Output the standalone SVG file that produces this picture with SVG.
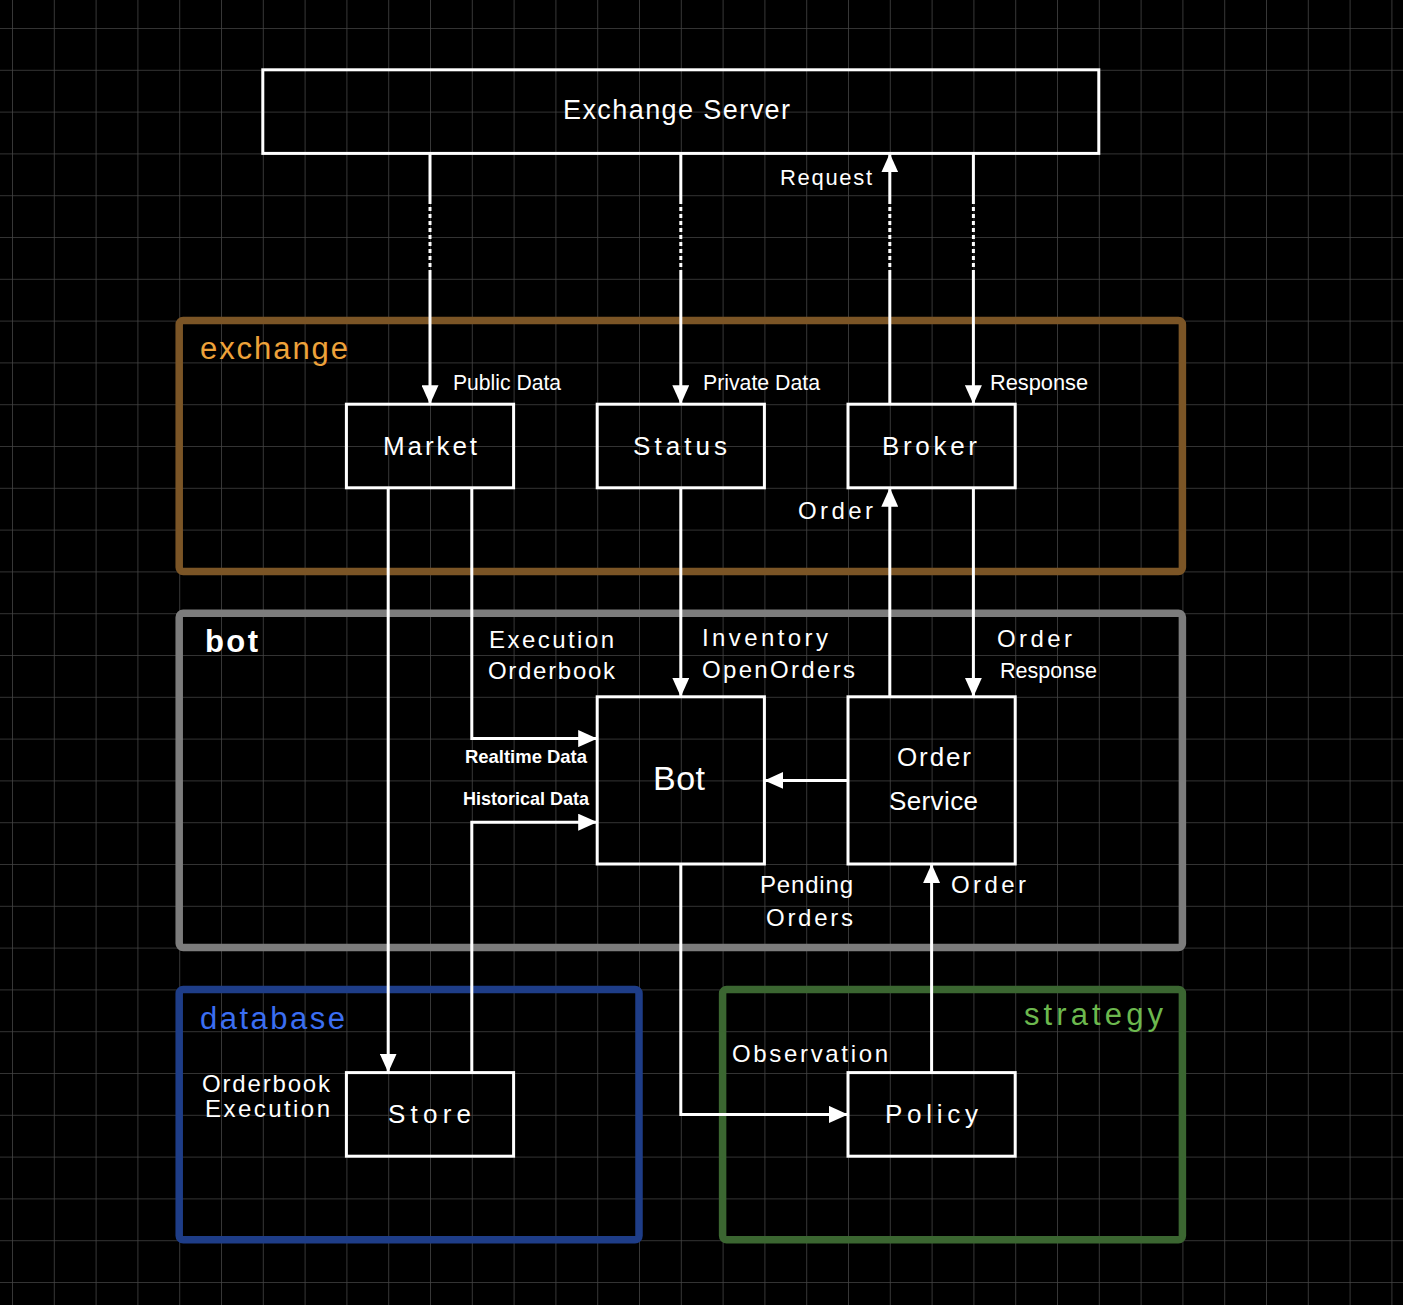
<svg xmlns="http://www.w3.org/2000/svg" width="1403" height="1305" viewBox="0 0 1403 1305">
<defs>
<pattern id="grid" x="12" y="28" width="41.8" height="41.8" patternUnits="userSpaceOnUse">
<path d="M0,0 H41.8 M0,0 V41.8" stroke="#444" stroke-width="1.6" fill="none"/>
</pattern>
<marker id="ah" markerWidth="19" markerHeight="17" refX="19" refY="8.5" orient="auto" markerUnits="userSpaceOnUse">
<path d="M0,0 L19,8.5 L0,17 z" fill="#fff"/>
</marker>
<style>
.node{fill:none;stroke:#fff;stroke-width:3}
.grp{fill:none;stroke-width:7.5}
.c{fill:none;stroke:#fff;stroke-width:3}
.d{fill:none;stroke:#fff;stroke-width:3;stroke-dasharray:4 3}
.a{marker-end:url(#ah)}
text{font-family:"Liberation Sans","Noto Sans",sans-serif;fill:#fff}
.s{font-size:22px}
.m{font-size:24px}
.n{font-size:26px}
.g{font-size:31px}
</style>
</defs>
<rect x="0" y="0" width="1403" height="1305" fill="#000"/>
<rect x="0" y="0" width="1403" height="1305" fill="url(#grid)"/>

<g id="group-exchange">
<rect class="grp" x="179.2" y="320.6" width="1003.2" height="250.8" rx="4" stroke="#7b5526"/>
<text class="g" x="200" y="359" textLength="148" lengthAdjust="spacing" style="fill:#eea23a">exchange</text>
</g>
<g id="group-bot">
<rect class="grp" x="179.2" y="613.2" width="1003.2" height="334.4" rx="4" stroke="#7c7c7c"/>
<text class="g" x="205" y="652" textLength="53" lengthAdjust="spacing" font-weight="bold">bot</text>
</g>
<g id="group-database">
<rect class="grp" x="179.2" y="989.4" width="459.8" height="250.4" rx="4" stroke="#1e3d88"/>
<text class="g" x="200" y="1029" textLength="145" lengthAdjust="spacing" style="fill:#3b6ef2">database</text>
</g>
<g id="group-strategy">
<rect class="grp" x="722.6" y="989.4" width="459.8" height="250.4" rx="4" stroke="#3b6631"/>
<text class="g" x="1024" y="1025" textLength="139" lengthAdjust="spacing" style="fill:#6cb84e">strategy</text>
</g>

<g id="connectors">
<path class="c" d="M430,153.4 V200"/>
<path class="d" d="M430,200 V274"/>
<path class="c a" d="M430,274 V404.2"/>
<path class="c" d="M680.8,153.4 V200"/>
<path class="d" d="M680.8,200 V274"/>
<path class="c a" d="M680.8,274 V404.2"/>
<path class="c" d="M889.8,404.2 V274"/>
<path class="d" d="M889.8,274 V200"/>
<path class="c a" d="M889.8,200 V153.4"/>
<path class="c" d="M973.4,153.4 V200"/>
<path class="d" d="M973.4,200 V274"/>
<path class="c a" d="M973.4,274 V404.2"/>
<path class="c a" d="M388.2,487.8 V1072.6"/>
<path class="c a" d="M471.8,487.8 V738.6 H597.2"/>
<path class="c a" d="M471.8,1072.6 V822.2 H597.2"/>
<path class="c a" d="M680.8,487.8 V696.8"/>
<path class="c a" d="M889.8,696.8 V487.8"/>
<path class="c a" d="M973.4,487.8 V696.8"/>
<path class="c a" d="M848,780.4 H764.4"/>
<path class="c a" d="M680.8,864 V1114.4 H848"/>
<path class="c a" d="M931.6,1072.6 V864"/>
</g>

<g id="labels">
<text class="s" x="780" y="185" textLength="92" lengthAdjust="spacing">Request</text>
<text class="s" x="453" y="390" textLength="108" lengthAdjust="spacingAndGlyphs">Public Data</text>
<text class="s" x="703" y="390" textLength="117" lengthAdjust="spacingAndGlyphs">Private Data</text>
<text class="s" x="990" y="390" textLength="98" lengthAdjust="spacingAndGlyphs">Response</text>
<text class="m" x="798" y="519" textLength="75" lengthAdjust="spacing">Order</text>
<text class="m" x="489" y="648" textLength="125" lengthAdjust="spacing">Execution</text>
<text class="m" x="488" y="679" textLength="127" lengthAdjust="spacing">Orderbook</text>
<text class="m" x="702" y="646" textLength="126" lengthAdjust="spacing">Inventory</text>
<text class="m" x="702" y="678" textLength="153" lengthAdjust="spacing">OpenOrders</text>
<text class="m" x="997" y="647" textLength="75" lengthAdjust="spacing">Order</text>
<text class="s" x="1000" y="678" textLength="97" lengthAdjust="spacingAndGlyphs">Response</text>
<text x="465" y="763" font-size="19" font-weight="bold" textLength="122" lengthAdjust="spacingAndGlyphs">Realtime Data</text>
<text x="463" y="805" font-size="19" font-weight="bold" textLength="126" lengthAdjust="spacingAndGlyphs">Historical Data</text>
<text class="m" x="760" y="893" textLength="93" lengthAdjust="spacing">Pending</text>
<text class="m" x="766" y="926" textLength="87" lengthAdjust="spacing">Orders</text>
<text class="m" x="951" y="893" textLength="75" lengthAdjust="spacing">Order</text>
<text class="m" x="202" y="1092" textLength="128" lengthAdjust="spacing">Orderbook</text>
<text class="m" x="205" y="1117" textLength="125" lengthAdjust="spacing">Execution</text>
<text class="m" x="732" y="1062" textLength="156" lengthAdjust="spacing">Observation</text>
</g>

<g id="node-exchange-server">
<rect class="node" x="262.8" y="69.8" width="836" height="83.6"/>
<text x="563" y="119" font-size="27" textLength="227" lengthAdjust="spacing">Exchange Server</text>
</g>
<g id="node-market">
<rect class="node" x="346.4" y="404.2" width="167.2" height="83.6"/>
<text class="n" x="383" y="455" textLength="94" lengthAdjust="spacing">Market</text>
</g>
<g id="node-status">
<rect class="node" x="597.2" y="404.2" width="167.2" height="83.6"/>
<text class="n" x="633" y="455" textLength="94" lengthAdjust="spacing">Status</text>
</g>
<g id="node-broker">
<rect class="node" x="848" y="404.2" width="167.2" height="83.6"/>
<text class="n" x="882" y="455" textLength="95" lengthAdjust="spacing">Broker</text>
</g>
<g id="node-bot">
<rect class="node" x="597.2" y="696.8" width="167.2" height="167.2"/>
<text x="653" y="790" font-size="34" textLength="52" lengthAdjust="spacing">Bot</text>
</g>
<g id="node-order-service">
<rect class="node" x="848" y="696.8" width="167.2" height="167.2"/>
<text class="n" x="897" y="766" textLength="74" lengthAdjust="spacing">Order</text>
<text class="n" x="889" y="810" textLength="89" lengthAdjust="spacing">Service</text>
</g>
<g id="node-store">
<rect class="node" x="346.4" y="1072.6" width="167.2" height="83.6"/>
<text class="n" x="388" y="1123" textLength="83" lengthAdjust="spacing">Store</text>
</g>
<g id="node-policy">
<rect class="node" x="848" y="1072.6" width="167.2" height="83.6"/>
<text class="n" x="885" y="1123" textLength="93" lengthAdjust="spacing">Policy</text>
</g>
</svg>
